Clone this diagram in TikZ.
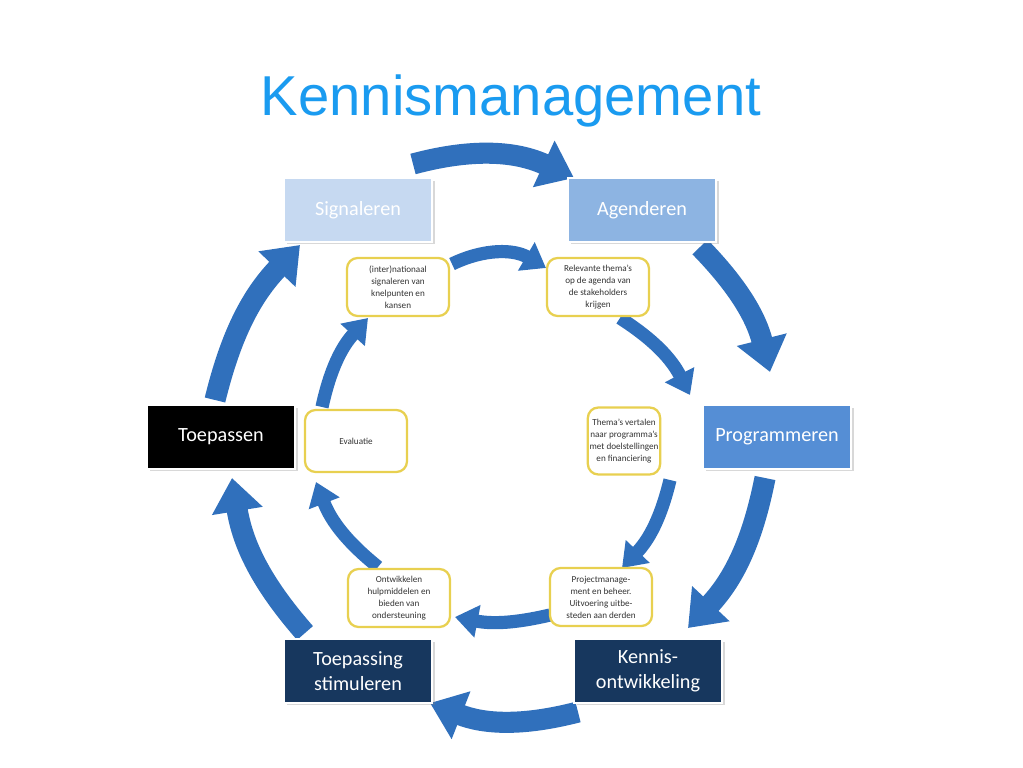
\documentclass[tikz,border=0pt]{standalone}
\usepackage{fontspec}
\setmainfont{Carlito}
\newfontfamily\titlefont{Liberation Sans}
\usetikzlibrary{arrows.meta,shadows}
\definecolor{titleblue}{HTML}{1A9BF0}
\definecolor{arrowblue}{HTML}{3070BC}
\definecolor{taskyellow}{HTML}{E8D050}
\definecolor{sigfill}{HTML}{C6D9F1}
\definecolor{agdfill}{HTML}{8DB4E2}
\definecolor{prgfill}{HTML}{558ED5}
\definecolor{navyfill}{HTML}{17375E}

\begin{document}
\begin{tikzpicture}[x=0.02cm,y=0.02cm,
  stage/.style={draw=white,line width=1pt,minimum width=2.96cm,minimum height=1.27cm,
    text=white,align=center,font=\fontsize{11.5}{14}\selectfont,
    drop shadow={opacity=0.3,shadow xshift=1.5pt,shadow yshift=-1.5pt}},
  task/.style={draw=taskyellow,line width=1.3pt,rounded corners=6pt,fill=white,
    minimum width=2.04cm,minimum height=1.16cm,align=center,text=black!80,
    inner xsep=1pt,font=\fontsize{5.2}{6.8}\selectfont},
  bigarrow/.style={draw=arrowblue,line width=12pt,-{Triangle[width=28pt,length=19pt]},bend left=#1},
  smallarrow/.style={draw=arrowblue,line width=7.5pt,-{Triangle[width=18pt,length=13pt]},bend left=#1}]
\useasboundingbox[fill=white] (-505,-327) rectangle (518,440);

\node[font=\titlefont\fontsize{32}{36}\selectfont,text=titleblue] (title) at (6,339) {Kennismanagement};

\coordinate (o1s) at (-92,276);  \coordinate (o1e) at (69,262);
\coordinate (o2s) at (195,193);  \coordinate (o2e) at (265,68);
\coordinate (o3s) at (260,-38);  \coordinate (o3e) at (183,-188);
\coordinate (o4s) at (73,-272);  \coordinate (o4e) at (-75,-263);
\coordinate (o5s) at (-200,-193); \coordinate (o5e) at (-273,-38);
\coordinate (o6s) at (-290,40);  \coordinate (o6e) at (-205,195);
\draw[bigarrow=20] (o1s) to (o1e);
\draw[bigarrow=15] (o2s) to (o2e);
\draw[bigarrow=16] (o3s) to (o3e);
\draw[bigarrow=18] (o4s) to (o4e);
\draw[bigarrow=16] (o5s) to (o5e);
\draw[bigarrow=15] (o6s) to (o6e);

\coordinate (i1s) at (-53,176);  \coordinate (i1e) at (41,172);
\coordinate (i2s) at (115,122);  \coordinate (i2e) at (185,45);
\coordinate (i3s) at (165,-40);  \coordinate (i3e) at (117,-128);
\coordinate (i4s) at (45,-175);  \coordinate (i4e) at (-50,-177);
\coordinate (i5s) at (-127,-127); \coordinate (i5e) at (-189,-42);
\coordinate (i6s) at (-183,33);  \coordinate (i6e) at (-137,122);
\draw[smallarrow=28] (i1s) to (i1e);
\draw[smallarrow=15] (i2s) to (i2e);
\draw[smallarrow=15] (i3s) to (i3e);
\draw[smallarrow=12] (i4s) to (i4e);
\draw[smallarrow=15] (i5s) to (i5e);
\draw[smallarrow=15] (i6s) to (i6e);

\node[stage,fill=sigfill] (sig) at (-147,230) {Signaleren};
\node[stage,fill=agdfill] (agd) at (137,230) {Agenderen};
\node[stage,fill=prgfill] (prg) at (272,3) {Programmeren};
\node[stage,fill=black] (toe) at (-284,3) {Toepassen};
\node[stage,fill=navyfill] (stim) at (-147,-231) {Toepassing\\stimuleren};
\node[stage,fill=navyfill] (ken) at (143,-231) {Kennis-\\ontwikkeling};

\node[task] (intl) at (-107,153) {(inter)nationaal\\signaleren van\\knelpunten en\\kansen};
\node[task] (rel) at (93,153) {Relevante thema's\\op de agenda van\\de stakeholders\\krijgen};
\node[task,minimum width=1.44cm,minimum height=1.34cm] (thv) at (119,-1) {Thema's vertalen\\naar programma's\\met doelstellingen\\en financiering};
\node[task,minimum height=1.24cm] (eva) at (-149,-1) {Evaluatie};
\node[task] (ont) at (-106,-158) {Ontwikkelen\\hulpmiddelen en\\bieden van\\ondersteuning};
\node[task] (prj) at (96,-157) {Projectmanage-\\ment en beheer.\\Uitvoering uitbe-\\steden aan derden};
\end{tikzpicture}
\end{document}
